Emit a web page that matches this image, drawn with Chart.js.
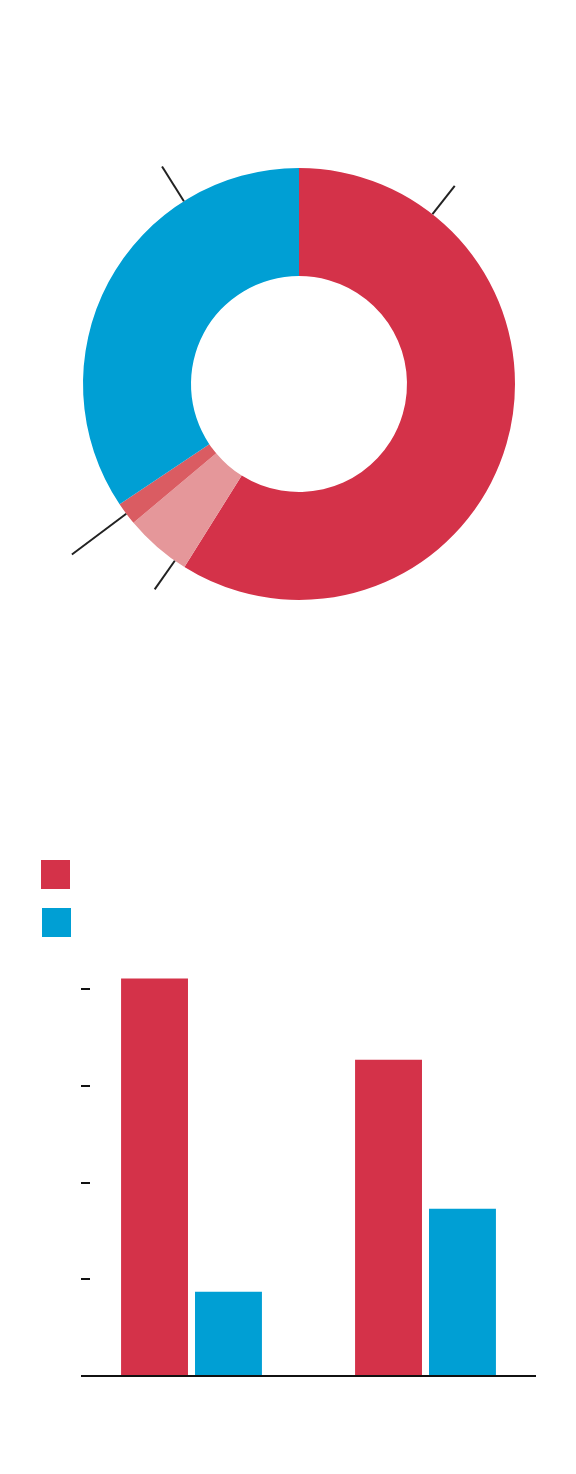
<!DOCTYPE html>
<html>
<head>
<meta charset="utf-8">
<script src="https://cdn.jsdelivr.net/npm/chart.js@4.4.1/dist/chart.umd.min.js"></script>
<style>
  body { margin: 0; background: #fff; width: 576px; height: 1474px; position: relative; overflow: hidden; }
  #pieWrap { position: absolute; left: 0; top: 0; width: 576px; height: 768px; }
  #barWrap { position: absolute; left: 0; top: 768px; width: 576px; height: 706px; }
  .key { position: absolute; width: 29px; height: 29px; }
</style>
</head>
<body>
<div id="pieWrap"><canvas id="pie"></canvas></div>
<div class="key" id="key0" style="left:41px; top:860px;"></div>
<div class="key" id="key1" style="left:42px; top:908px;"></div>
<div id="barWrap"><canvas id="bar"></canvas></div>
<script>
// doughnut shares (percent), clockwise from the top
const pieLabels = ["A", "B", "C", "D"];
const pieValues = [58.9, 5.0, 1.7, 34.4];
const pieColors = ["#d43249", "#e5979a", "#da5c62", "#009fd4"];

// bar chart
const barCategories = ["1", "2"];
const seriesRed = [41.1, 32.7];
const seriesBlue = [8.7, 17.3];
const yTicks = [0, 10, 20, 30, 40];

document.getElementById("key0").style.background = pieColors[0];
document.getElementById("key1").style.background = pieColors[3];

// short radial lines leaving each slice (where the labels would sit)
const leaderLines = {
    id: "leaderLines",
    afterDatasetsDraw(chart, args, opts) {
        const ctx = chart.ctx;
        const arcs = chart.getDatasetMeta(0).data;
        ctx.save();
        ctx.strokeStyle = "#222";
        ctx.lineWidth = 2;
        arcs.forEach((arc, i) => {
            const a = arc.startAngle + opts.at[i] * (arc.endAngle - arc.startAngle);
            const r0 = arc.outerRadius;
            const r1 = r0 + opts.len[i];
            ctx.beginPath();
            ctx.moveTo(arc.x + Math.cos(a) * r0, arc.y + Math.sin(a) * r0);
            ctx.lineTo(arc.x + Math.cos(a) * r1, arc.y + Math.sin(a) * r1);
            ctx.stroke();
        });
        ctx.restore();
    }
};

new Chart(document.getElementById("pie"), {
    type: "doughnut",
    data: {
        labels: pieLabels,
        datasets: [{
            data: pieValues,
            backgroundColor: pieColors,
            borderWidth: 0
        }]
    },
    options: {
        responsive: true,
        maintainAspectRatio: false,
        animation: false,
        cutout: "50%",
        layout: { padding: { left: 83, right: 61, top: 168, bottom: 168 } },
        plugins: {
            legend: { display: false },
            tooltip: { enabled: false },
            leaderLines: { at: [0.18, 0.17, 0.5, 0.74], len: [36, 35, 68, 41] }
        }
    },
    plugins: [leaderLines]
});

// baseline and small tick marks on the left
const barAxis = {
    id: "barAxis",
    afterDatasetsDraw(chart) {
        const ctx = chart.ctx;
        const area = chart.chartArea;
        const y = chart.scales.y;
        const left = area.left + 6.5;
        ctx.save();
        ctx.strokeStyle = "#111";
        ctx.lineWidth = 2;
        yTicks.forEach((v) => {
            if (v === 0) return;
            const py = Math.round(y.getPixelForValue(v));
            ctx.beginPath();
            ctx.moveTo(left, py);
            ctx.lineTo(left + 9, py);
            ctx.stroke();
        });
        const base = Math.round(y.getPixelForValue(0));
        ctx.beginPath();
        ctx.moveTo(left, base);
        ctx.lineTo(area.right - 6.5, base);
        ctx.stroke();
        ctx.restore();
    }
};

new Chart(document.getElementById("bar"), {
    type: "bar",
    data: {
        labels: barCategories,
        datasets: [
            { data: seriesRed, backgroundColor: pieColors[0], borderWidth: 0 },
            { data: seriesBlue, backgroundColor: pieColors[3], borderWidth: 0 }
        ]
    },
    options: {
        responsive: true,
        maintainAspectRatio: false,
        animation: false,
        categoryPercentage: 0.632,
        barPercentage: 0.905,
        layout: { padding: { left: 74.5, right: 33.5, top: 192, bottom: 98 } },
        scales: {
            x: { display: false },
            y: { display: false, min: 0, max: 43 }
        },
        plugins: {
            legend: { display: false },
            tooltip: { enabled: false }
        }
    },
    plugins: [barAxis]
});
</script>
</body>
</html>
